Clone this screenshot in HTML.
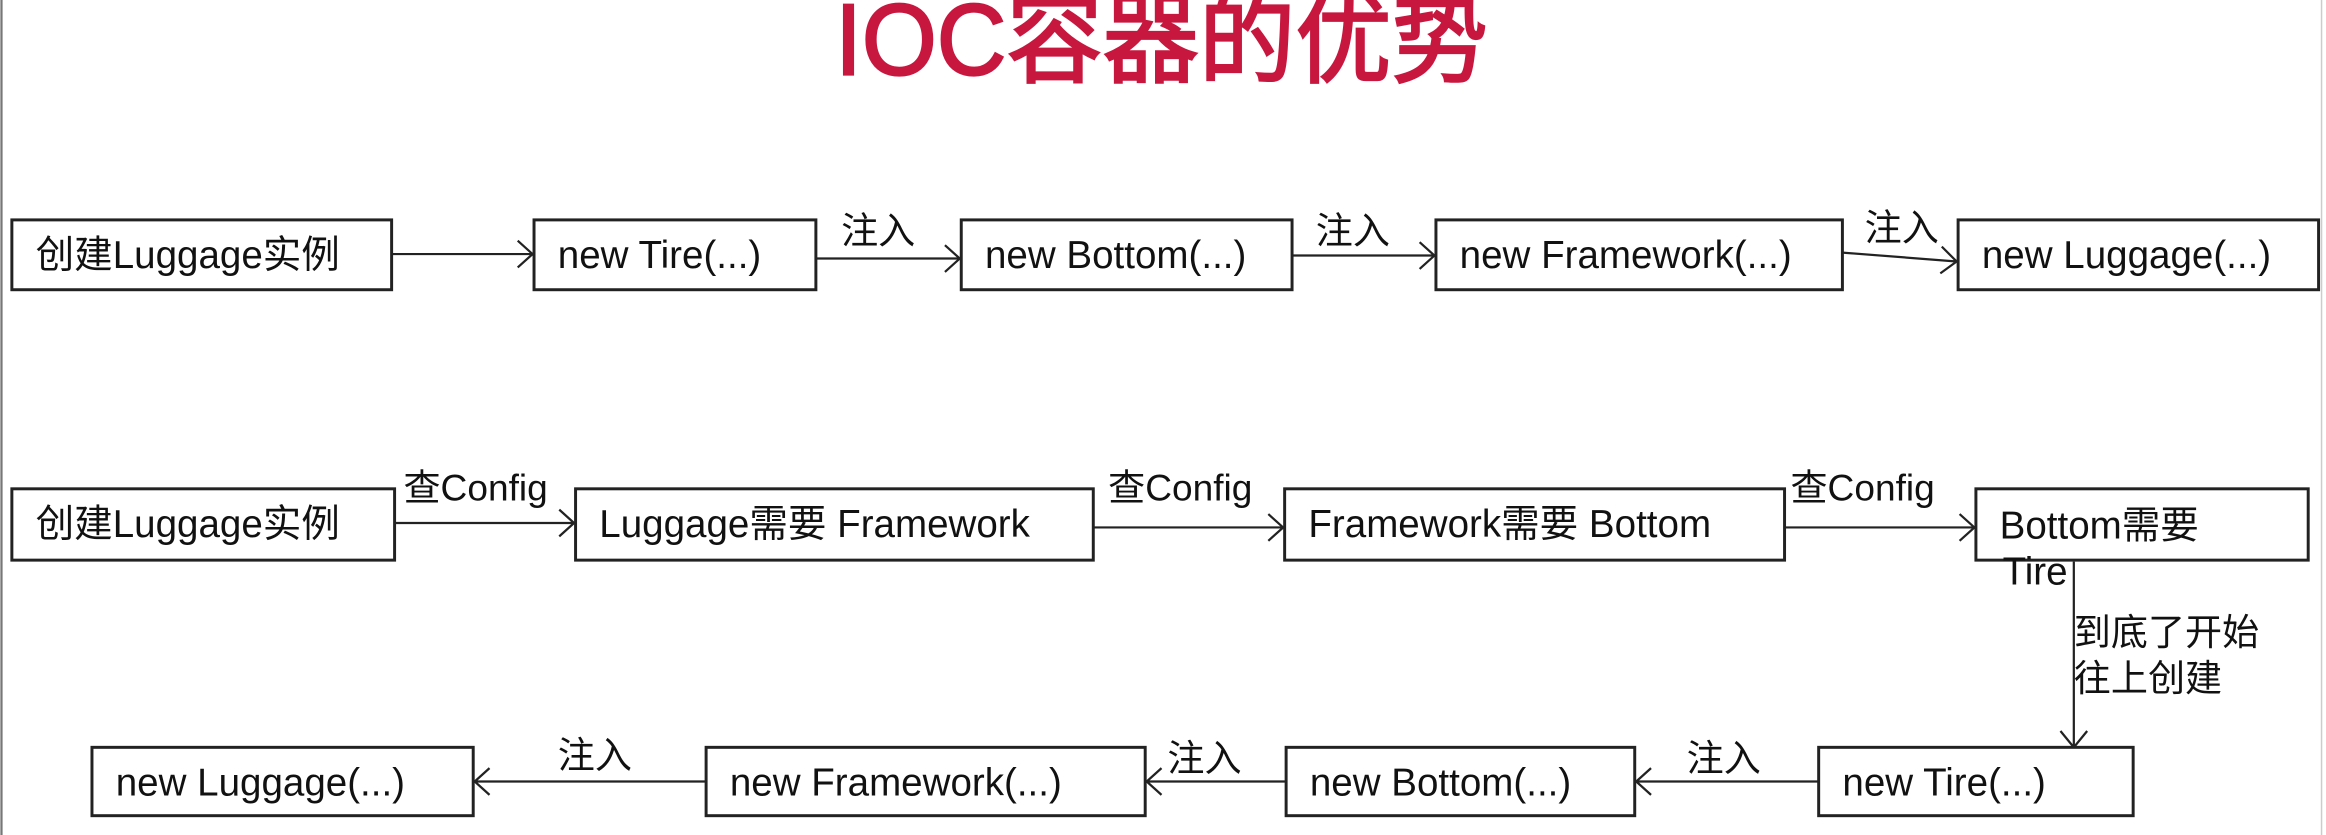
<!DOCTYPE html>
<html><head><meta charset="utf-8"><style>
html,body{margin:0;padding:0;background:#fff;}
svg{display:block;}
text{font-family:"Liberation Sans","Noto Sans CJK SC",sans-serif;fill:#111;}
.b{fill:#fff;stroke:#222;stroke-width:2;}
.l{stroke:#222;stroke-width:1.5;fill:none;}
.t{font-size:26px;dominant-baseline:central;}
.lb{font-size:25px;}
</style></head><body>
<svg width="2326" height="835" viewBox="0 0 1568 562" preserveAspectRatio="none" xmlns="http://www.w3.org/2000/svg">
<line x1="1" y1="0" x2="1" y2="562" stroke="#777" stroke-width="1.5"/>
<line x1="1565" y1="0" x2="1565" y2="562" stroke="#ccc" stroke-width="1"/>
<text x="783" y="50" text-anchor="middle" style="font-size:68px;font-weight:normal;fill:#c8173f;stroke:#c8173f;stroke-width:1.5;" textLength="440" lengthAdjust="spacingAndGlyphs">IOC容器的优势</text>

<!-- row 1 -->
<rect class="b" x="8" y="148" width="256" height="47"/><text class="t" x="24" y="172">创建Luggage实例</text>
<rect class="b" x="360" y="148" width="190" height="47"/><text class="t" x="376" y="172">new Tire(...)</text>
<rect class="b" x="648" y="148" width="223" height="47"/><text class="t" x="664" y="172">new Bottom(...)</text>
<rect class="b" x="968" y="148" width="274" height="47"/><text class="t" x="984" y="172">new Framework(...)</text>
<rect class="b" x="1320" y="148" width="243" height="47"/><text class="t" x="1336" y="172">new Luggage(...)</text>
<path class="l" d="M264 171H359M349 162L359 171L349 180"/>
<path class="l" d="M550 174H647M637 165L647 174L637 183"/>
<path class="l" d="M871 172H967M957 163L967 172L957 181"/>
<path class="l" d="M1242 170L1319 176M1309 166L1319 176L1308 184"/>
<text class="lb" x="567" y="164">注入</text>
<text class="lb" x="887" y="164">注入</text>
<text class="lb" x="1257" y="162">注入</text>

<!-- row 2 -->
<rect class="b" x="8" y="329" width="258" height="48"/><text class="t" x="24" y="353">创建Luggage实例</text>
<rect class="b" x="388" y="329" width="349" height="48"/><text class="t" x="404" y="353">Luggage需要 Framework</text>
<rect class="b" x="866" y="329" width="337" height="48"/><text class="t" x="882" y="353">Framework需要 Bottom</text>
<rect class="b" x="1332" y="329" width="224" height="48"/><text class="t" x="1348" y="354">Bottom需要</text>
<text class="t" x="1350" y="385">Tire</text>
<path class="l" d="M266 352H387M377 343L387 352L377 361"/>
<path class="l" d="M737 355H865M855 346L865 355L855 364"/>
<path class="l" d="M1203 355H1331M1321 346L1331 355L1321 364"/>
<text class="lb" x="272" y="337">查Config</text>
<text class="lb" x="747" y="337">查Config</text>
<text class="lb" x="1207" y="337">查Config</text>
<path class="l" d="M1398 378V503M1389 492L1398 503L1407 492"/>
<text class="lb" x="1398" y="434">到底了开始</text>
<text class="lb" x="1398" y="465">往上创建</text>

<!-- row 3 -->
<rect class="b" x="62" y="503" width="257" height="46"/><text class="t" x="78" y="527">new Luggage(...)</text>
<rect class="b" x="476" y="503" width="296" height="46"/><text class="t" x="492" y="527">new Framework(...)</text>
<rect class="b" x="867" y="503" width="235" height="46"/><text class="t" x="883" y="527">new Bottom(...)</text>
<rect class="b" x="1226" y="503" width="212" height="46"/><text class="t" x="1242" y="527">new Tire(...)</text>
<path class="l" d="M476 526H320M330 517L320 526L330 535"/>
<path class="l" d="M867 526H773M783 517L773 526L783 535"/>
<path class="l" d="M1226 526H1103M1113 517L1103 526L1113 535"/>
<text class="lb" x="376" y="517">注入</text>
<text class="lb" x="787" y="519">注入</text>
<text class="lb" x="1137" y="519">注入</text>
</svg>
</body></html>
